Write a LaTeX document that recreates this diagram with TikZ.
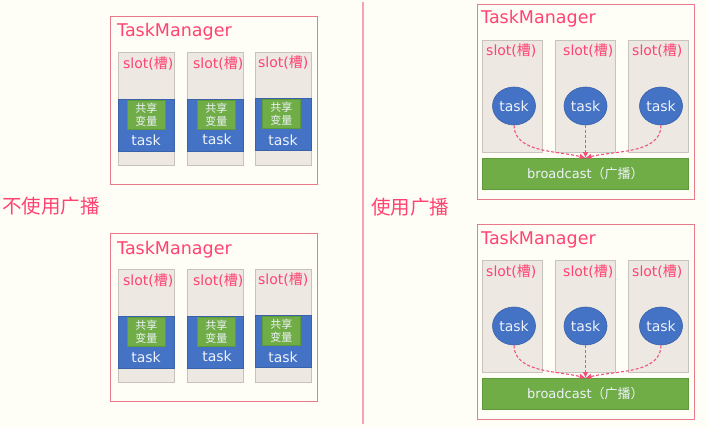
\documentclass[tikz,border=0pt]{standalone}
\usepackage{fontspec}
\setmainfont{DejaVu Sans}
\newfontfamily\cjk{Noto Sans CJK SC}
\usetikzlibrary{arrows.meta,shapes.geometric}
\definecolor{bgc}{HTML}{FFFEF6}
\definecolor{tmline}{HTML}{E87A8C}
\definecolor{divline}{HTML}{F6A3B2}
\definecolor{redtext}{HTML}{FF4272}
\definecolor{flowc}{HTML}{F4507C}
\definecolor{slotfill}{HTML}{EDE8E2}
\definecolor{slotdraw}{HTML}{C9C2BB}
\definecolor{bluef}{HTML}{4472C4}
\definecolor{blued}{HTML}{3A62A8}
\definecolor{greenf}{HTML}{70AD47}
\definecolor{greend}{HTML}{5E9A3A}
\definecolor{lighttext}{HTML}{EEF2FA}
\tikzset{
  tmbox/.style={draw=tmline, line width=1pt, fill=bgc, anchor=north west, inner sep=0pt},
  tmtitle/.style={text=redtext, font=\fontsize{17.5}{20}\selectfont, anchor=base west, inner sep=0pt},
  slotbox/.style={draw=slotdraw, line width=1pt, fill=slotfill, anchor=north west, inner sep=0pt, minimum width=56pt, minimum height=113pt},
  slotlabel/.style={text=redtext, font=\fontsize{14}{16}\selectfont, anchor=base west, inner sep=0pt},
  taskband/.style={draw=blued, line width=0.8pt, fill=bluef, anchor=north west, inner sep=0pt, minimum width=56pt, minimum height=52pt},
  sharebox/.style={draw=greend, line width=0.6pt, fill=greenf, anchor=north west, inner sep=0pt, minimum width=38pt, minimum height=29pt},
  sharetext/.style={text=lighttext, font=\cjk\fontsize{11}{13.5}\selectfont, align=center, inner sep=0pt},
  tasktext/.style={text=lighttext, font=\fontsize{14}{16}\selectfont, inner sep=0pt},
  taskell/.style={ellipse, draw=blued, line width=0.6pt, fill=bluef, minimum width=43pt, minimum height=38pt, inner sep=0pt, text=lighttext, font=\fontsize{14}{16}\selectfont},
  rslot/.style={draw=slotdraw, line width=1pt, fill=slotfill, anchor=north west, inner sep=0pt, minimum width=60pt, minimum height=112pt},
  bcast/.style={draw=greend, line width=0.8pt, fill=greenf, anchor=north west, inner sep=0pt, minimum width=206pt, minimum height=31pt, text=lighttext, font=\fontsize{13}{15}\selectfont},
  flow/.style={color=flowc, dash pattern=on 3pt off 2pt, line width=1.1pt, -{Latex[length=6pt,width=6pt]}},
  sidelabel/.style={text=redtext, font=\cjk\fontsize{19.5}{22}\selectfont, anchor=west, inner sep=0pt}
}
\newcommand\leftTM[2]{%
  \begin{scope}[yshift=-#2pt]
    \node[tmbox, minimum width=207pt, minimum height=168pt] (#1tm) at (110,16) {};
    \node[tmtitle] (#1title) at (117,37) {TaskManager};
    \node[slotbox] (#1s1) at (118,52) {};
    \node[slotbox] (#1s2) at (187,52) {};
    \node[slotbox] (#1s3) at (255,52) {};
    \node[slotlabel] (#1l1) at (123,68) {slot({\cjk 槽})};
    \node[slotlabel] (#1l2) at (193,68) {slot({\cjk 槽})};
    \node[slotlabel] (#1l3) at (258,67) {slot({\cjk 槽})};
    \node[taskband] (#1b1) at (118,99) {};
    \node[taskband] (#1b2) at (187,99) {};
    \node[taskband] (#1b3) at (255,98) {};
    \node[sharebox] (#1g1) at (127,100) {};
    \node[sharebox] (#1g2) at (197,100) {};
    \node[sharebox] (#1g3) at (262,99) {};
    \node[sharetext] (#1gt1) at (#1g1.center) {共享\\变量};
    \node[sharetext] (#1gt2) at (#1g2.center) {共享\\变量};
    \node[sharetext] (#1gt3) at (#1g3.center) {共享\\变量};
    \node[tasktext] (#1t1) at (146,140) {task};
    \node[tasktext] (#1t2) at (217,139) {task};
    \node[tasktext] (#1t3) at (283,140) {task};
  \end{scope}}
\newcommand\rightTM[2]{%
  \begin{scope}[yshift=-#2pt]
    \node[tmbox, minimum width=217pt, minimum height=195pt] (#1tm) at (477,4) {};
    \node[tmtitle] (#1title) at (481,24) {TaskManager};
    \node[rslot] (#1s1) at (482,40) {};
    \node[rslot] (#1s2) at (555,40) {};
    \node[rslot] (#1s3) at (628,40) {};
    \node[slotlabel] (#1l1) at (486,56) {slot({\cjk 槽})};
    \node[slotlabel] (#1l2) at (563,56) {slot({\cjk 槽})};
    \node[slotlabel] (#1l3) at (632,56) {slot({\cjk 槽})};
    \node[taskell] (#1e1) at (514,106) {task};
    \node[taskell] (#1e2) at (585.5,106) {task};
    \node[taskell] (#1e3) at (661,106) {task};
    \node[bcast] (#1bc) at (482,158) {broadcast{\cjk （广播）}};
    \coordinate (#1m) at (585.5,158);
    \draw[flow] (#1e1.south) to[out=-90,in=165,looseness=0.9] (#1m);
    \draw[flow] (#1e2.south) -- (#1m);
    \draw[flow] (#1e3.south) to[out=-90,in=15,looseness=0.9] (#1m);
  \end{scope}}
\begin{document}
\begin{tikzpicture}[x=1pt,y=-1pt]
  \fill[bgc] (0,0) rectangle (708,428);
  \useasboundingbox (0,0) rectangle (708,428);
  \coordinate (dtop) at (363,2);
  \coordinate (dbot) at (363,424);
  \draw[divline, line width=1.6pt] (dtop) -- (dbot);
  \leftTM{a}{0}
  \leftTM{b}{217}
  \rightTM{c}{0}
  \rightTM{d}{220}
  \node[sidelabel] (nolab) at (2,206) {不使用广播};
  \node[sidelabel] (yeslab) at (371,207) {使用广播};
\end{tikzpicture}
\end{document}
